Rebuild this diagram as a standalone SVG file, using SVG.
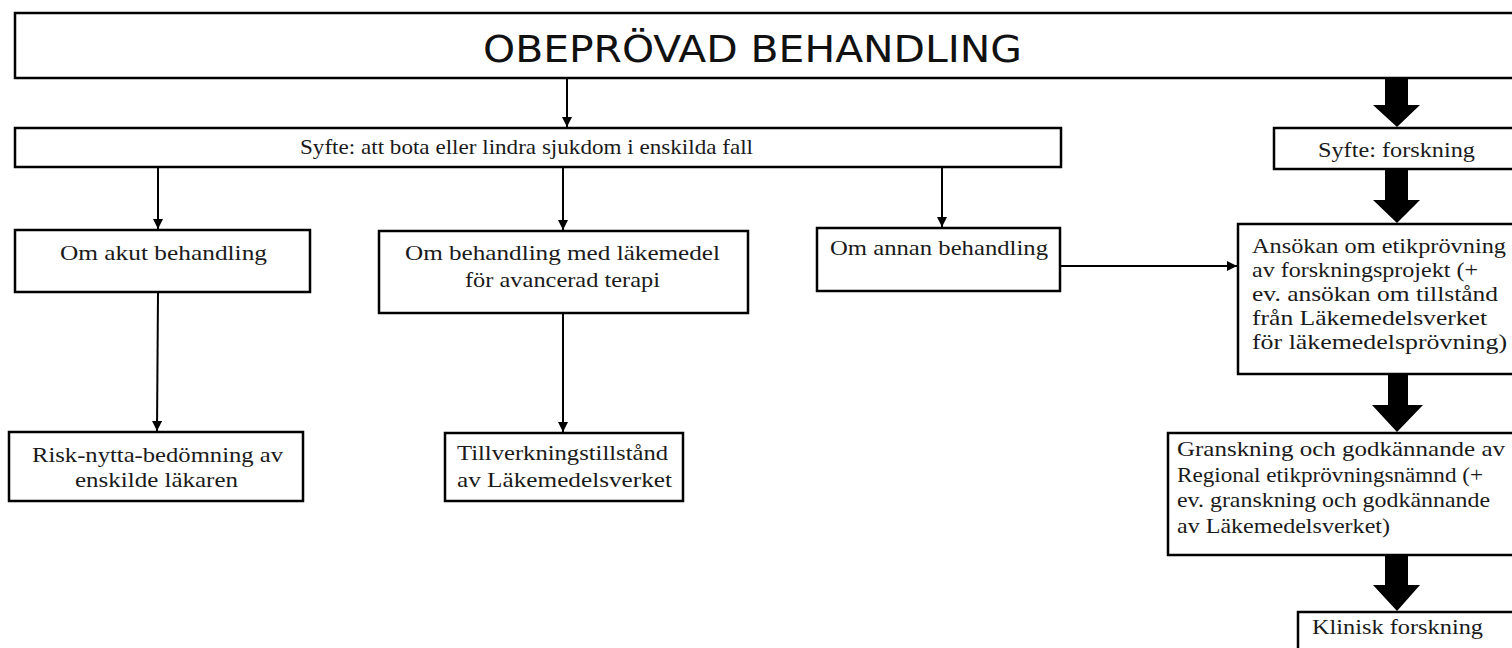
<svg xmlns="http://www.w3.org/2000/svg" width="1512" height="648" viewBox="0 0 1512 648">
<style>
.box{fill:#fff;stroke:#000;stroke-width:2.5}
.t{font-family:"Liberation Serif","DejaVu Serif",serif;font-size:22px;fill:#1a1a1a}
.title{font-family:"DejaVu Sans Condensed","DejaVu Sans",sans-serif;font-stretch:condensed;font-size:37px;fill:#111}
.ln{stroke:#000;stroke-width:2;fill:none;marker-end:url(#ah)}
.big{fill:#000}
</style>
<defs>
<marker id="ah" markerUnits="userSpaceOnUse" markerWidth="12" markerHeight="12" refX="10" refY="5" orient="auto">
<path d="M0,0 L10,5 L0,10 Z" fill="#000"/>
</marker>
</defs>
<rect width="1512" height="648" fill="#fff"/>
<g id="title">
<rect class="box" x="15" y="13" width="1510" height="65"/>
<text class="title" x="483" y="62" textLength="539" lengthAdjust="spacingAndGlyphs">OBEPRÖVAD BEHANDLING</text>
</g>
<g id="syfte-bota">
<rect class="box" x="15" y="128" width="1046" height="39"/>
<text class="t" x="300" y="154" textLength="453" lengthAdjust="spacingAndGlyphs">Syfte: att bota eller lindra sjukdom i enskilda fall</text>
</g>
<g id="syfte-forskning">
<rect class="box" x="1274" y="128" width="250" height="41"/>
<text class="t" x="1318" y="157" textLength="157" lengthAdjust="spacingAndGlyphs">Syfte: forskning</text>
</g>
<g id="akut">
<rect class="box" x="15" y="230" width="295" height="62"/>
<text class="t" x="60" y="260" textLength="207" lengthAdjust="spacingAndGlyphs">Om akut behandling</text>
</g>
<g id="lakemedel">
<rect class="box" x="379" y="231" width="369" height="82"/>
<text class="t" x="405" y="260" textLength="315" lengthAdjust="spacingAndGlyphs">Om behandling med läkemedel</text>
<text class="t" x="465" y="287" textLength="195" lengthAdjust="spacingAndGlyphs">för avancerad terapi</text>
</g>
<g id="annan">
<rect class="box" x="817" y="228" width="243" height="63"/>
<text class="t" x="830" y="255" textLength="218" lengthAdjust="spacingAndGlyphs">Om annan behandling</text>
</g>
<g id="risk">
<rect class="box" x="9" y="432" width="294" height="69"/>
<text class="t" x="32" y="462" textLength="251" lengthAdjust="spacingAndGlyphs">Risk-nytta-bedömning av</text>
<text class="t" x="75" y="487" textLength="163" lengthAdjust="spacingAndGlyphs">enskilde läkaren</text>
</g>
<g id="tillverkning">
<rect class="box" x="445" y="433" width="238" height="68"/>
<text class="t" x="457" y="460" textLength="211" lengthAdjust="spacingAndGlyphs">Tillverkningstillstånd</text>
<text class="t" x="457" y="487" textLength="215" lengthAdjust="spacingAndGlyphs">av Läkemedelsverket</text>
</g>
<g id="ansokan">
<rect class="box" x="1238" y="224" width="290" height="150"/>
<text class="t" x="1252" y="253" textLength="254" lengthAdjust="spacingAndGlyphs">Ansökan om etikprövning</text>
<text class="t" x="1252" y="277" textLength="226" lengthAdjust="spacingAndGlyphs">av forskningsprojekt (+</text>
<text class="t" x="1252" y="301" textLength="246" lengthAdjust="spacingAndGlyphs">ev. ansökan om tillstånd</text>
<text class="t" x="1252" y="325" textLength="235" lengthAdjust="spacingAndGlyphs">från Läkemedelsverket</text>
<text class="t" x="1252" y="349" textLength="255" lengthAdjust="spacingAndGlyphs">för läkemedelsprövning)</text>
</g>
<g id="granskning">
<rect class="box" x="1168" y="433" width="360" height="122"/>
<text class="t" x="1177" y="456" textLength="328" lengthAdjust="spacingAndGlyphs">Granskning och godkännande av</text>
<text class="t" x="1177" y="482" textLength="306" lengthAdjust="spacingAndGlyphs">Regional etikprövningsnämnd (+</text>
<text class="t" x="1177" y="507" textLength="313" lengthAdjust="spacingAndGlyphs">ev. granskning och godkännande</text>
<text class="t" x="1177" y="533" textLength="213" lengthAdjust="spacingAndGlyphs">av Läkemedelsverket)</text>
</g>
<g id="klinisk">
<rect class="box" x="1298" y="612" width="230" height="50"/>
<text class="t" x="1312" y="634" textLength="171" lengthAdjust="spacingAndGlyphs">Klinisk forskning</text>
</g>
<g id="connectors">
<line class="ln" x1="567" y1="79" x2="567" y2="127"/>
<line class="ln" x1="158" y1="167" x2="158" y2="229"/>
<line class="ln" x1="563" y1="167" x2="563" y2="230"/>
<line class="ln" x1="942" y1="167" x2="942" y2="227"/>
<line class="ln" x1="158" y1="292" x2="157" y2="431"/>
<line class="ln" x1="563" y1="313" x2="563" y2="432"/>
<line class="ln" x1="1060" y1="266" x2="1237" y2="266"/>
<polygon class="big" points="1385,79 1408,79 1408,105 1420,105 1397,127 1373,105 1385,105"/>
<polygon class="big" points="1385,169 1408,169 1408,200 1420,200 1397,223 1373,200 1385,200"/>
<polygon class="big" points="1388,375 1408,375 1408,405 1423,405 1397,432 1372,405 1388,405"/>
<polygon class="big" points="1385,556 1408,556 1408,585 1420,585 1397,611 1373,585 1385,585"/>
</g>
</svg>
